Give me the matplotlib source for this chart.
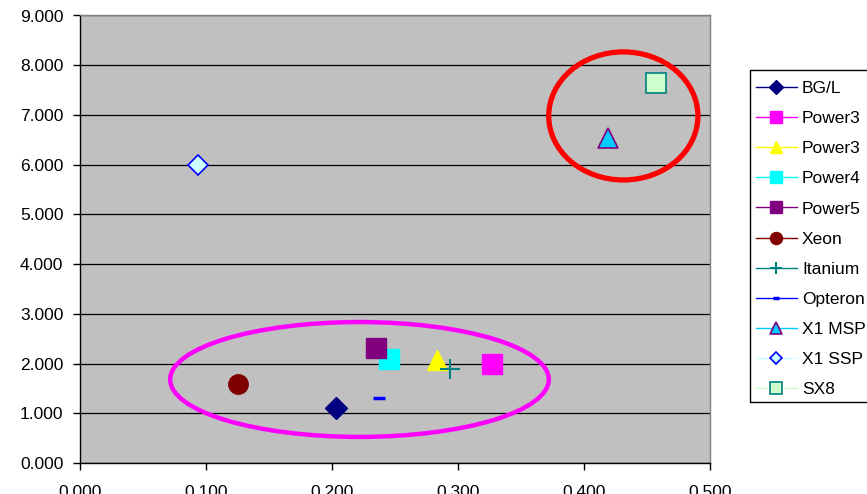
import matplotlib
matplotlib.use("Agg")
import matplotlib.pyplot as plt
from matplotlib.patches import Ellipse, Rectangle
from matplotlib.lines import Line2D
from matplotlib.ticker import FormatStrFormatter

plt.rcParams['font.family'] = ['Liberation Sans', 'DejaVu Sans']

# Systems and their (x, y) positions
labels = ["BG/L", "Power3", "Power3", "Power4", "Power5", "Xeon",
          "Itanium", "Opteron", "X1 MSP", "X1 SSP", "SX8"]
x_vals = [0.203, 0.327, 0.283, 0.245, 0.235, 0.125,
          0.294, 0.237, 0.419, 0.094, 0.457]
y_vals = [1.10, 1.99, 2.07, 2.09, 2.31, 1.59,
          1.89, 1.30, 6.53, 6.00, 7.65]

# Marker styling per series: marker, size, face, edge, line colour (legend)
styles = [
    dict(marker="D", ms=11, mfc="#000080", mec="#000080", color="#000080"),
    dict(marker="s", ms=14, mfc="#FF00FF", mec="#FF00FF", color="#FF00FF"),
    dict(marker="^", ms=15, mfc="#FFFF00", mec="#FFFF00", color="#FFFF00"),
    dict(marker="s", ms=14, mfc="#00FFFF", mec="#00FFFF", color="#00FFFF"),
    dict(marker="s", ms=14, mfc="#800080", mec="#800080", color="#800080"),
    dict(marker="o", ms=14, mfc="#800000", mec="#800000", color="#800000"),
    dict(marker="+", ms=15, mfc="#008080", mec="#008080", color="#008080", mew=1.5),
    dict(marker="_", ms=8, mfc="#0000FF", mec="#0000FF", color="#0000FF", mew=2.5),
    dict(marker="^", ms=15, mfc="#00CCFF", mec="#800080", color="#00CCFF", mew=1.2),
    dict(marker="D", ms=10, mfc="#CCFFFF", mec="#0000FF", color="#CCFFFF", mew=1.2),
    dict(marker="s", ms=14, mfc="#CCFFCC", mec="#008080", color="#CCFFCC", mew=1.2),
]

W, H = 867, 494
fig = plt.figure(figsize=(W / 100, H / 100), dpi=100)
left, right, top, bottom = 80, 710, 15.5, 463
ax = fig.add_axes([left / W, 1 - bottom / H, (right - left) / W, (bottom - top) / H])
ax.set_facecolor("#C0C0C0")

handles = []
for lab, xv, yv, st in zip(labels, x_vals, y_vals, styles):
    st = dict(st)
    color = st.pop("color")
    h, = ax.plot([xv], [yv], linestyle="none", label=lab, zorder=3, **st)
    handles.append((h, color, st))

# Highlight ellipses
ax.add_patch(Ellipse((0.2218, 1.68), 0.3005, 2.31, fill=False,
                     edgecolor="#FF00FF", lw=3.2, zorder=2))
ax.add_patch(Ellipse((0.4312, 6.98), 0.1184, 2.575, fill=False,
                     edgecolor="#FF0000", lw=3.8, zorder=2))

ax.set_xlim(0, 0.5)
ax.set_ylim(0, 9)
ax.set_xticks([0.0, 0.1, 0.2, 0.3, 0.4, 0.5])
ax.set_yticks(range(0, 10))
ax.xaxis.set_major_formatter(FormatStrFormatter("%.3f"))
ax.yaxis.set_major_formatter(FormatStrFormatter("%.3f"))
ax.yaxis.grid(True, color="#000000", lw=0.9, zorder=1)
ax.set_axisbelow(True)
ax.tick_params(axis="both", direction="out", length=5, width=1,
               labelsize=12.5, colors="black")
ax.tick_params(axis="y", pad=7)
ax.tick_params(axis="x", pad=11)
for s in ("left", "bottom"):
    ax.spines[s].set_color("black")
    ax.spines[s].set_linewidth(1)
for s in ("top", "right"):
    ax.spines[s].set_color("#808080")
    ax.spines[s].set_linewidth(1)

# Legend box running off the right edge of the figure
fig.patches.append(Rectangle((750 / W, 1 - 402 / H), 130 / W, 332 / H,
                             transform=fig.transFigure, fill=False,
                             edgecolor="black", lw=1, zorder=5))

# Legend entries show a line through a smaller marker
leg_handles = []
for h, color, st in handles:
    st2 = dict(st)
    st2["ms"] = st2["ms"] * 0.62
    leg_handles.append(Line2D([0], [0], color=color, lw=1, **st2))
leg = fig.legend(leg_handles, labels, loc="upper left",
                 bbox_to_anchor=(750 / W, 1 - 75 / H),
                 frameon=False, fontsize=12.5,
                 handlelength=2.35, handletextpad=0.3, labelspacing=0.86,
                 borderpad=0.35, borderaxespad=0, markerscale=1)

fig.savefig("out.png", dpi=100)
